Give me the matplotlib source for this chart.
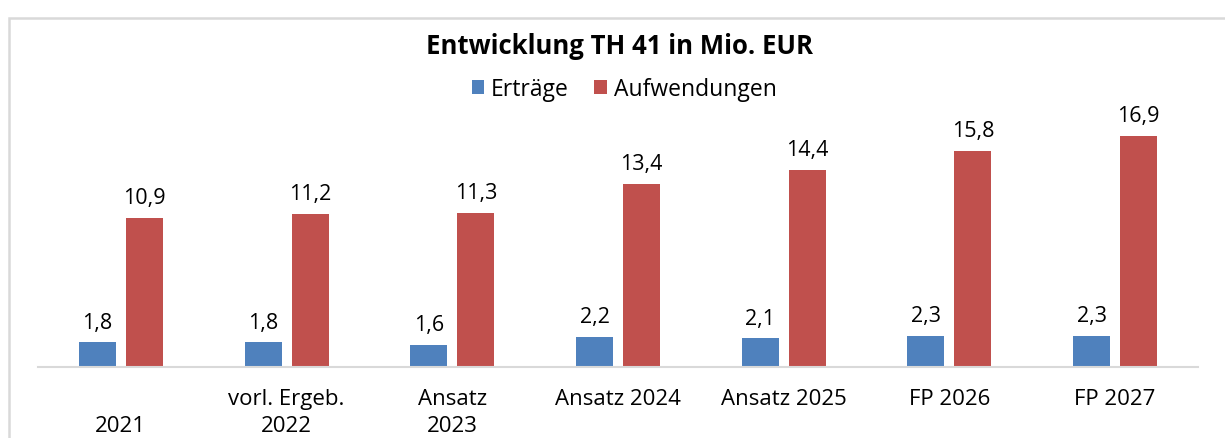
import matplotlib.pyplot as plt
from matplotlib.patches import Rectangle
import numpy as np

categories = ['\n2021', 'vorl. Ergeb.\n2022', 'Ansatz\n2023', 'Ansatz 2024',
              'Ansatz 2025', 'FP 2026', 'FP 2027']
ertraege = [1.8, 1.8, 1.6, 2.2, 2.1, 2.3, 2.3]
aufwendungen = [10.9, 11.2, 11.3, 13.4, 14.4, 15.8, 16.9]

BLUE = '#4F81BD'
RED = '#C0504D'
GRID = '#D9D9D9'

plt.rcParams['font.family'] = ['Open Sans', 'DejaVu Sans']

W, H = 1225, 439
fig = plt.figure(figsize=(W / 100, H / 100), dpi=100)

# light frame around the chart (cut off at right and bottom)
fig.patches.append(Rectangle((9 / W, -0.1), 1.2, (H - 10) / H + 0.1 - 9 / H,
                             transform=fig.transFigure, fill=False,
                             edgecolor=GRID, linewidth=1.8))

left, right, base, top = 38, 1198, 368, 110
ax = fig.add_axes([left / W, (H - base) / H, (right - left) / W, (base - top) / H])
px_per_unit = 231 / 16.9
ax.set_ylim(0, (base - top) / px_per_unit)
ax.set_xlim(-0.5, len(categories) - 0.5)

x = np.arange(len(categories))
off = 0.142
bw = 0.223
b1 = ax.bar(x - off, ertraege, bw, color=BLUE, label='Erträge')
b2 = ax.bar(x + off, aufwendungen, bw, color=RED, label='Aufwendungen')

for bars, vals in ((b1, ertraege), (b2, aufwendungen)):
    for rect, v in zip(bars, vals):
        ax.annotate(f'{v:.1f}'.replace('.', ','),
                    (rect.get_x() + rect.get_width() / 2, rect.get_height()),
                    xytext=(0, 7), textcoords='offset points',
                    ha='center', va='bottom', fontsize=15.5, clip_on=False)

for s in ('top', 'right', 'left'):
    ax.spines[s].set_visible(False)
ax.spines['bottom'].set_color(GRID)
ax.spines['bottom'].set_linewidth(1.5)
ax.set_yticks([])
ax.set_xticks(x)
ax.set_xticklabels(categories, fontsize=16, linespacing=1.4)
ax.tick_params(axis='x', length=0, pad=15)

fig.text(620 / W, 1 - 47 / H, 'Entwicklung TH 41 in Mio. EUR',
         ha='center', va='center', fontsize=18.5, fontweight='bold')
fig.legend(handles=[b1, b2], loc='center', bbox_to_anchor=(624 / W, 1 - 90 / H),
           ncol=2, frameon=False, fontsize=16.5, handlelength=0.55, handleheight=0.55,
           handletextpad=0.3, columnspacing=1.1)

fig.savefig('out.png', dpi=100)
